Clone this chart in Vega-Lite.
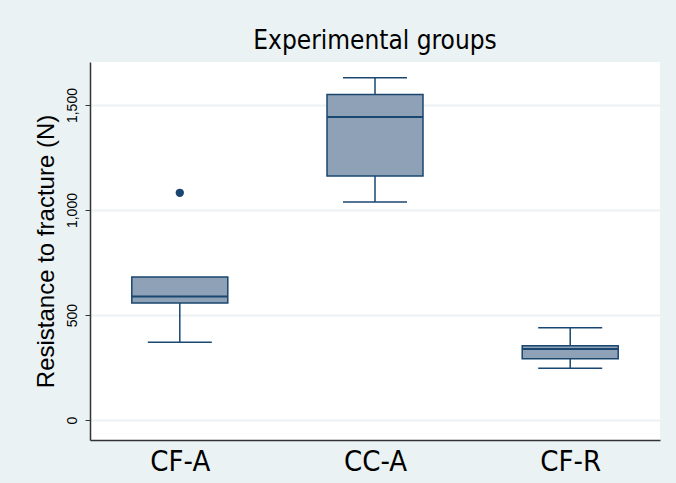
{
  "$schema": "https://vega.github.io/schema/vega-lite/v6.json",
  "autosize": "none",
  "width": 570,
  "height": 378,
  "padding": {"left": 90, "top": 62, "right": 16, "bottom": 43},
  "background": "#eaf2f3",
  "config": {
    "font": "Liberation Sans",
    "view": {"stroke": null, "fill": "white"},
    "axis": {"domainColor": "#333333", "tickColor": "#333333", "labelColor": "black", "titleColor": "black"}
  },
  "title": {"text": "Experimental groups", "fontSize": 26, "fontWeight": "normal", "font": "DejaVu Sans Condensed", "offset": 8, "color": "black"},
  "datasets": {
    "boxes": [
      {"group": "CF-A", "lower": 371, "q1": 557, "median": 588, "q3": 681, "upper": 681},
      {"group": "CC-A", "lower": 1038, "q1": 1162, "median": 1443, "q3": 1550, "upper": 1630},
      {"group": "CF-R", "lower": 247, "q1": 292, "median": 338, "q3": 354, "upper": 440}
    ],
    "outliers": [
      {"group": "CF-A", "value": 1082}
    ]
  },
  "layer": [
    {
      "data": {"name": "boxes"},
      "mark": {"type": "rule", "color": "#1a476f", "strokeWidth": 1.5},
      "encoding": {
        "x": {"field": "group", "type": "nominal", "sort": ["CF-A", "CC-A", "CF-R"],
              "scale": {"type": "point", "padding": 0.46},
              "axis": {"title": null, "labelAngle": 0, "labelFontSize": 29, "labelFont": "DejaVu Sans Condensed", "ticks": false, "labelPadding": 7, "domainWidth": 1.5}},
        "y": {"field": "lower", "type": "quantitative",
              "scale": {"domain": [-95, 1705], "nice": false, "zero": false},
              "axis": {"title": "Resistance to fracture (N)", "titleFontSize": 24, "titleFontWeight": "normal", "titlePadding": 7,
                       "values": [0, 500, 1000, 1500], "format": ",d", "labelAngle": -90, "labelFontSize": 14,
                       "labelPadding": 6, "tickSize": 5, "domainWidth": 1.5, "grid": true, "gridColor": "#eaf2f3", "gridWidth": 2}},
        "y2": {"field": "upper"}
      }
    },
    {
      "data": {"name": "boxes"},
      "mark": {"type": "bar", "size": 96, "fill": "#8fa1b6", "stroke": "#1a476f", "strokeWidth": 1.5},
      "encoding": {
        "x": {"field": "group", "type": "nominal", "sort": ["CF-A", "CC-A", "CF-R"]},
        "y": {"field": "q1", "type": "quantitative"},
        "y2": {"field": "q3"}
      }
    },
    {
      "data": {"name": "boxes"},
      "mark": {"type": "tick", "size": 96, "thickness": 2, "color": "#1a476f", "opacity": 1},
      "encoding": {
        "x": {"field": "group", "type": "nominal", "sort": ["CF-A", "CC-A", "CF-R"]},
        "y": {"field": "median", "type": "quantitative"}
      }
    },
    {
      "data": {"name": "boxes"},
      "mark": {"type": "tick", "size": 64, "thickness": 1.5, "color": "#1a476f", "opacity": 1},
      "encoding": {
        "x": {"field": "group", "type": "nominal", "sort": ["CF-A", "CC-A", "CF-R"]},
        "y": {"field": "lower", "type": "quantitative"}
      }
    },
    {
      "data": {"name": "boxes"},
      "mark": {"type": "tick", "size": 64, "thickness": 1.5, "color": "#1a476f", "opacity": 1},
      "transform": [{"filter": "datum.upper > datum.q3"}],
      "encoding": {
        "x": {"field": "group", "type": "nominal", "sort": ["CF-A", "CC-A", "CF-R"]},
        "y": {"field": "upper", "type": "quantitative"}
      }
    },
    {
      "data": {"name": "outliers"},
      "mark": {"type": "point", "filled": true, "size": 70, "color": "#1a476f", "opacity": 1},
      "encoding": {
        "x": {"field": "group", "type": "nominal", "sort": ["CF-A", "CC-A", "CF-R"]},
        "y": {"field": "value", "type": "quantitative"}
      }
    }
  ]
}
